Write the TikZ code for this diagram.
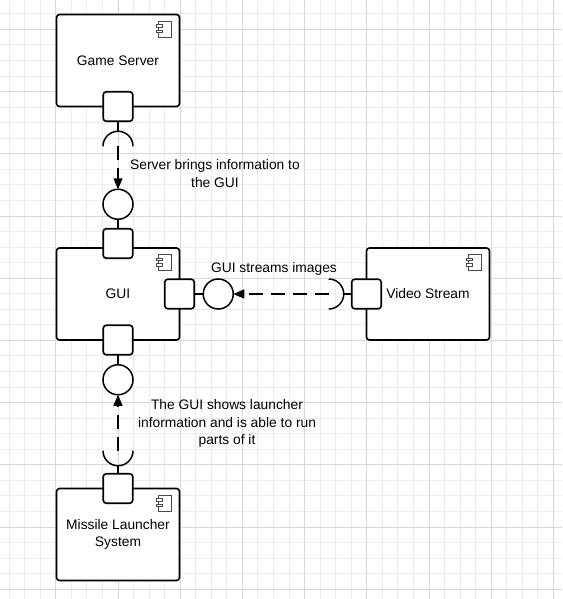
\documentclass[tikz,border=0pt]{standalone}
\usepackage{fontspec}
\setmainfont{Liberation Sans}
\usetikzlibrary{arrows.meta, positioning}
\definecolor{cGridMinor}{HTML}{ECECEC}
\definecolor{cGridMajor}{HTML}{D8D8D8}
\definecolor{cIcon}{HTML}{4A4A4A}
\newcommand\lblfont{\fontsize{13.8}{17.5}\selectfont}

\begin{document}
\begin{tikzpicture}[
  x=1pt, y=1pt,
  gridminor/.style={draw=cGridMinor, line width=0.8pt},
  gridmajor/.style={draw=cGridMajor, line width=0.8pt},
  comp/.style={rectangle, rounded corners=3pt, draw=black, fill=white, line width=1.6pt,
    minimum width=123pt, minimum height=92pt, inner sep=0pt, outer sep=0pt,
    align=center, font=\lblfont},
  port/.style={rectangle, rounded corners=3pt, draw=black, fill=white, line width=1.6pt,
    minimum size=29.5pt, inner sep=0pt, outer sep=0pt},
  lolli/.style={circle, draw=black, fill=white, line width=1.5pt,
    minimum size=30pt, inner sep=0pt, outer sep=0pt},
  sock/.style={circle, minimum size=30pt, inner sep=0pt, outer sep=0pt},
  icon/.style={draw=cIcon, fill=white, line width=0.7pt},
  line/.style={line width=1.5pt, black},
  dasharr/.style={line width=1.5pt, black, dash pattern=on 14pt off 8pt,
    -{Triangle[length=11pt, width=9pt]}},
  lbl/.style={align=center, font=\lblfont, inner sep=0pt}
]

  \useasboundingbox (0,0) rectangle (562,-599);
  \fill[white] (0,0) rectangle (562,-599);

  % background grid
  \foreach \k in {0,...,35}
    \draw[gridminor] ({553.3-15.55*\k},0) -- ({553.3-15.55*\k},-599);
  \foreach \k in {0,...,37}
    \draw[gridminor] (0,{-13.75-15.55*\k}) -- (562,{-13.75-15.55*\k});
  \foreach \k in {0,4,...,32}
    \draw[gridmajor] ({553.3-15.55*\k},0) -- ({553.3-15.55*\k},-599);
  \foreach \k in {1,5,...,37}
    \draw[gridmajor] (0,{-13.75-15.55*\k}) -- (562,{-13.75-15.55*\k});

  % components
  \node[comp] (gs) at (118,-60.5) {Game Server};
  \node[comp, below=141.5pt of gs] (gui) {GUI};
  \node[comp, below=148.5pt of gui] (ml) {Missile Launcher\\System};
  \node[comp, right=187pt of gui] (vs) {Video Stream};

  \foreach \c in {gs,gui,vs,ml} {
    \draw[icon] ([shift={(-20.7,-6.7)}]\c.north east) rectangle ([shift={(-8,-22.7)}]\c.north east);
    \draw[icon] ([shift={(-23.3,-10)}]\c.north east) rectangle ([shift={(-16.7,-12.7)}]\c.north east);
    \draw[icon] ([shift={(-23.3,-15.7)}]\c.north east) rectangle ([shift={(-16.7,-18.3)}]\c.north east);
  }

  % ports
  \node[port] (gsP) at (gs.south) {};
  \node[port] (guiPtop) at ([yshift=4.5pt]gui.north) {};
  \node[port] (guiPright) at (gui.east) {};
  \node[port] (guiPbot) at (gui.south) {};
  \node[port] (vsP) at (vs.west) {};
  \node[port] (mlP) at (ml.north) {};

  % interfaces
  \node[sock, below=10pt of gsP] (gsSock) {};
  \node[lolli, above=9.5pt of guiPtop] (guiCtop) {};
  \node[lolli, right=9pt of guiPright] (guiCright) {};
  \node[sock, left=8pt of vsP] (vsSock) {};
  \node[lolli, below=10pt of guiPbot] (guiCbot) {};
  \node[sock, above=8pt of mlP] (mlSock) {};

  \draw[line] (gsSock.west) arc[start angle=180, end angle=0, radius=15pt];
  \draw[line] (vsSock.north) arc[start angle=90, end angle=-90, radius=15pt];
  \draw[line] (mlSock.west) arc[start angle=180, end angle=360, radius=15pt];

  \draw[line] (gsP) -- (gsSock);
  \draw[dasharr] (gsSock.center) -- (guiCtop);
  \draw[line] (guiCtop) -- (guiPtop);

  \draw[line] (vsP) -- (vsSock);
  \draw[dasharr] (vsSock.center) -- (guiCright);
  \draw[line] (guiCright) -- (guiPright);

  \draw[line] (mlP) -- (mlSock);
  \draw[dasharr] (mlSock.center) -- (guiCbot);
  \draw[line] (guiCbot) -- (guiPbot);

  % labels
  \node[lbl] (srvlbl) at (215,-173.7) {Server brings information to\\the GUI};
  \node[lbl] (vidlbl) at (274,-269) {GUI streams images};
  \node[lbl] (mllbl) at (227,-423.5) {The GUI shows launcher\\information and is able to run\\parts of it};

\end{tikzpicture}
\end{document}
